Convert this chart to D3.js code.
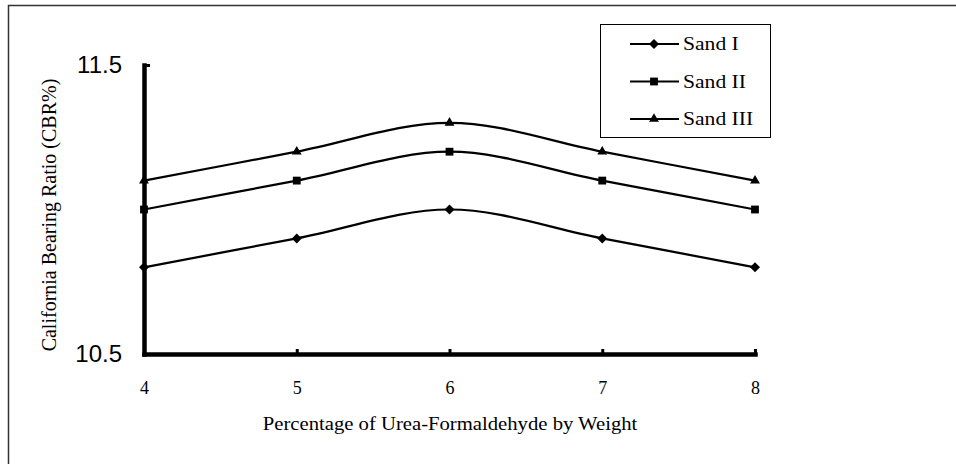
<!DOCTYPE html>
<html>
<head>
<meta charset="utf-8">
<script src="https://cdn.jsdelivr.net/npm/d3@7"></script>
<style>
  body { margin: 0; background: #fff; }
  svg { display: block; }
</style>
</head>
<body>
<div id="chart"></div>
<script>
const FRAME_WIDTH = 956;
const FRAME_HEIGHT = 464;
const SERIF = "'Liberation Serif', 'Times New Roman', serif";

// data
const PERCENTS = [4, 5, 6, 7, 8];
const SAND_I = [10.8, 10.9, 11.0, 10.9, 10.8];
const SAND_II = [11.0, 11.1, 11.2, 11.1, 11.0];
const SAND_III = [11.1, 11.2, 11.3, 11.2, 11.1];
const SERIES_NAMES = ["Sand I", "Sand II", "Sand III"];
const Y_TICKS = [10.5, 11.5];

const SERIES = [
  {name: SERIES_NAMES[0], values: SAND_I, symbol: d3.symbolDiamond2, size: 64},
  {name: SERIES_NAMES[1], values: SAND_II, symbol: d3.symbolSquare2, size: 78},
  {name: SERIES_NAMES[2], values: SAND_III, symbol: d3.symbolTriangle2, size: 70}
];

const X_SCALE = d3.scaleLinear().domain([4, 8]).range([144, 755]);
const Y_SCALE = d3.scaleLinear().domain([10.5, 11.5]).range([354, 65]);

const SVG = d3.select("#chart")
  .append("svg")
    .attr("width", FRAME_WIDTH)
    .attr("height", FRAME_HEIGHT);

// outer frame (runs off the right and bottom edge)
SVG.append("rect")
  .attr("x", 8.5)
  .attr("y", 5.5)
  .attr("width", 1000)
  .attr("height", 1000)
  .attr("fill", "none")
  .attr("stroke", "#333")
  .attr("stroke-width", 1.5);

// x axis
const xAxis = SVG.append("g")
  .attr("transform", "translate(0," + Y_SCALE(10.5) + ")")
  .call(d3.axisBottom(X_SCALE).tickValues(PERCENTS).tickSizeInner(-5).tickSizeOuter(0).tickPadding(27).tickFormat(d3.format("d")));
xAxis.select(".domain").attr("stroke-width", 4.5).attr("stroke-linecap", "square");
xAxis.selectAll(".tick line").attr("stroke-width", 3);
xAxis.selectAll(".tick text")
  .attr("font-family", SERIF)
  .attr("font-size", "18px")
  .attr("fill", "#000");

// y axis
const yAxis = SVG.append("g")
  .attr("transform", "translate(" + X_SCALE(4) + ",0)")
  .call(d3.axisLeft(Y_SCALE).tickValues(Y_TICKS).tickSizeInner(-6).tickSizeOuter(0).tickPadding(22).tickFormat(d3.format(".1f")));
yAxis.select(".domain").attr("stroke-width", 4.5).attr("stroke-linecap", "square");
yAxis.selectAll(".tick line").attr("stroke-width", 3);
yAxis.selectAll(".tick text")
  .attr("font-family", "'Liberation Sans', Arial, sans-serif")
  .attr("font-size", "24px")
  .attr("fill", "#000");

// axis titles
SVG.append("text")
  .attr("transform", "translate(450,430) scale(1.15,1)")
  .attr("text-anchor", "middle")
  .attr("font-family", SERIF)
  .attr("font-size", "18px")
  .text("Percentage of Urea-Formaldehyde by Weight");

SVG.append("text")
  .attr("transform", "translate(56,215) rotate(-90)")
  .attr("text-anchor", "middle")
  .attr("font-family", SERIF)
  .attr("font-size", "20px")
  .text("California Bearing Ratio (CBR%)");

// lines
const line = d3.line()
  .x((d, i) => X_SCALE(PERCENTS[i]))
  .y(d => Y_SCALE(d))
  .curve(d3.curveCatmullRom.alpha(0.5));

SERIES.forEach(s => {
  SVG.append("path")
    .datum(s.values)
    .attr("d", line)
    .attr("fill", "none")
    .attr("stroke", "#000")
    .attr("stroke-width", 2.2);

  SVG.selectAll(null)
    .data(s.values)
    .enter()
    .append("path")
      .attr("d", d3.symbol().type(s.symbol).size(s.size))
      .attr("transform", (d, i) => "translate(" + X_SCALE(PERCENTS[i]) + "," + Y_SCALE(d) + ")")
      .attr("fill", "#000");
});

// legend
const legend = SVG.append("g");
legend.append("rect")
  .attr("x", 600.5)
  .attr("y", 24.5)
  .attr("width", 170)
  .attr("height", 113)
  .attr("fill", "#fff")
  .attr("stroke", "#000")
  .attr("stroke-width", 1);

SERIES.forEach((s, i) => {
  const y = 44 + i * 37.5;
  legend.append("line")
    .attr("x1", 630).attr("x2", 679)
    .attr("y1", y).attr("y2", y)
    .attr("stroke", "#000")
    .attr("stroke-width", 2.2);
  legend.append("path")
    .attr("d", d3.symbol().type(s.symbol).size(s.size))
    .attr("transform", "translate(654," + y + ")")
    .attr("fill", "#000");
  legend.append("text")
    .attr("transform", "translate(683," + (y + 6) + ") scale(1.2,1)")
    .attr("font-family", SERIF)
    .attr("font-size", "18px")
    .text(s.name);
});
</script>
</body>
</html>
